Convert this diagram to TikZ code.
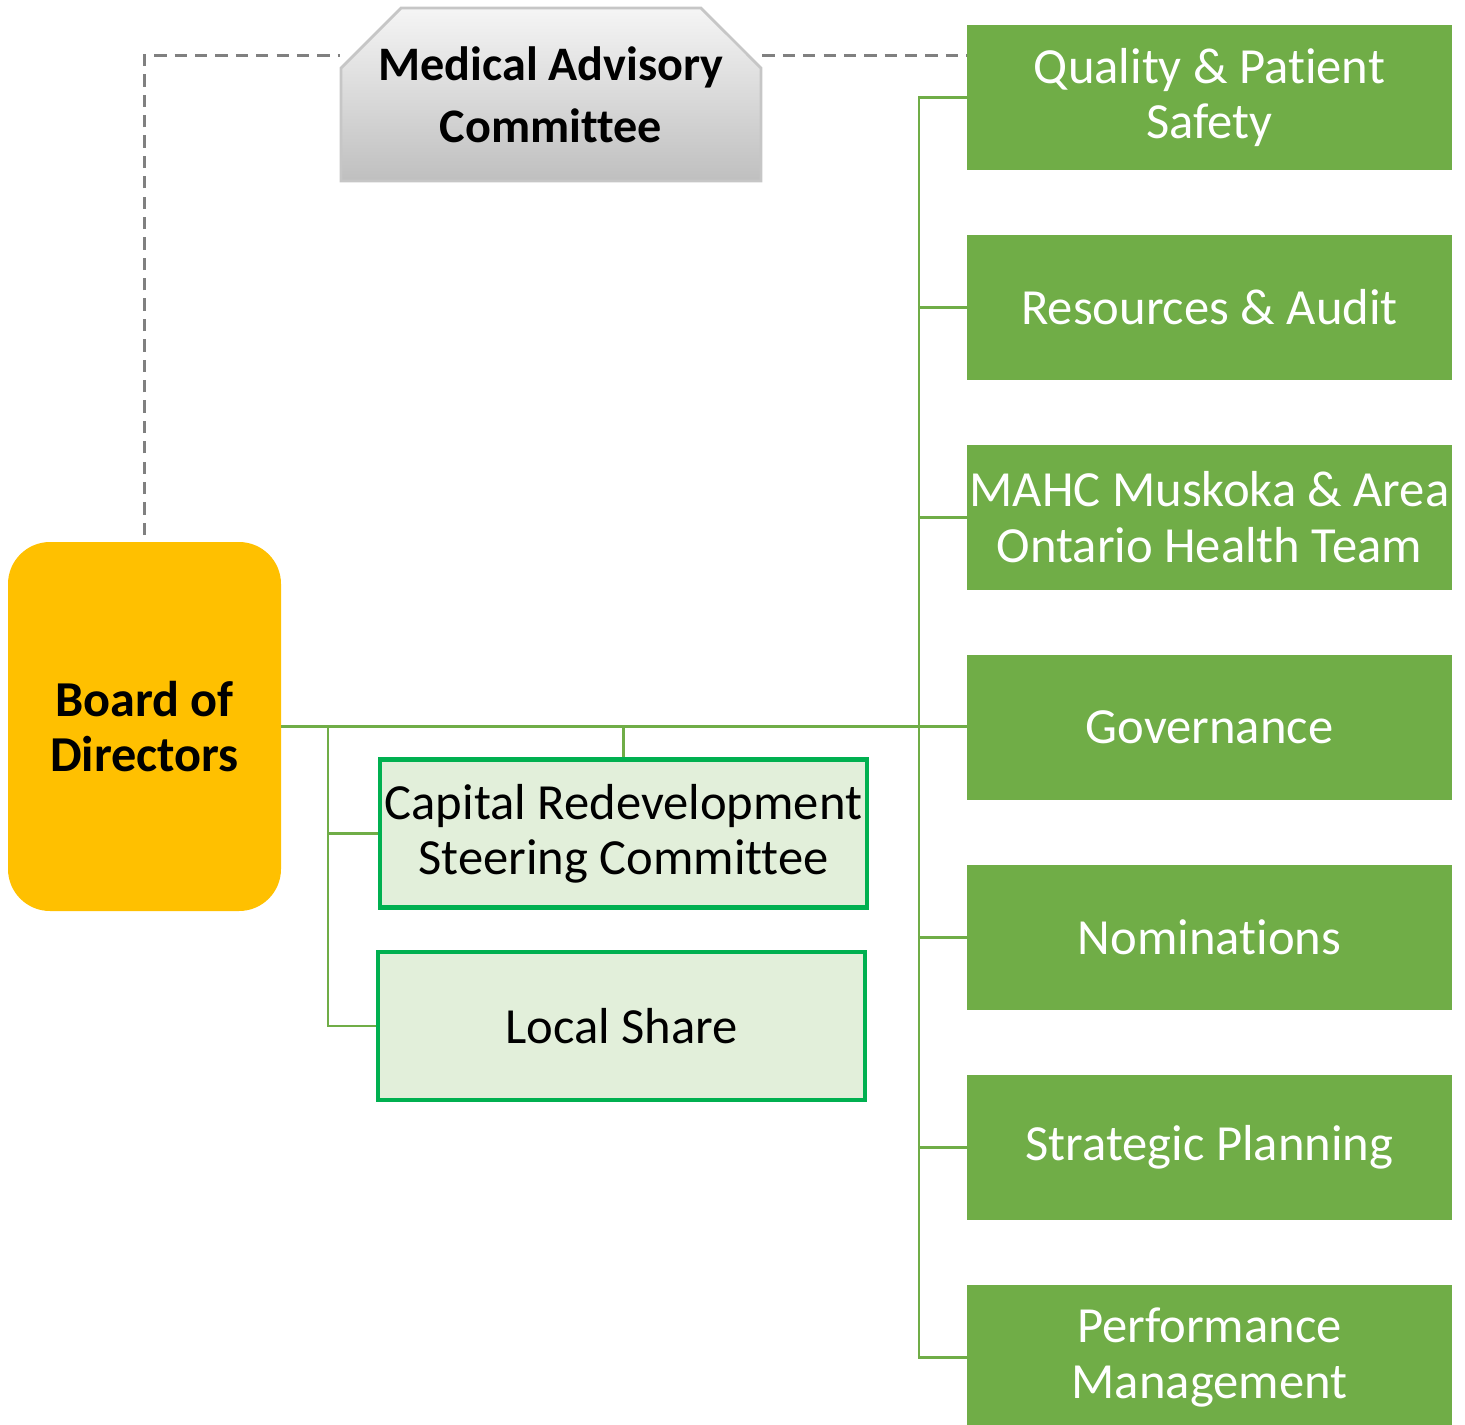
\documentclass[tikz,border=0pt]{standalone}
\usepackage{fontspec}
\setmainfont{Carlito}[Ligatures=NoCommon]
\usetikzlibrary{positioning, shapes.misc}
\definecolor{boardgold}{HTML}{FFC000}
\definecolor{leafgreen}{HTML}{70AD47}
\definecolor{palegreen}{HTML}{E2EFDA}
\definecolor{framegreen}{HTML}{00B050}

\begin{document}
\begin{tikzpicture}[
node distance=0.65cm,
committee/.style={fill=leafgreen,
text=white,
minimum width=4.85cm,
minimum height=1.45cm,
inner sep=0pt,
outer sep=0pt,
align=center,
font=\fontsize{14.4}{15.9}\selectfont},
subbox/.style={draw=framegreen,
line width=1.4pt,
fill=palegreen,
minimum width=4.87cm,
minimum height=1.48cm,
inner sep=0pt,
align=center,
font=\fontsize{14.4}{15.6}\selectfont},
link/.style={leafgreen, line width=0.75pt},
dashline/.style={gray, line width=1.05pt, dash pattern=on 3.5pt off 2.3pt}
]
\useasboundingbox (0,0) rectangle (14.65,-14.25);

\node[draw=none, fill=boardgold, rounded corners=0.42cm, minimum width=2.73cm, minimum height=3.69cm,
outer sep=0pt, align=center, font=\bfseries\fontsize{14.3}{15.6}\selectfont] (board) at (1.445,-7.265) {Board of\\Directors};

\node[chamfered rectangle, chamfered rectangle corners={north west, north east},
chamfered rectangle xsep=0.24cm, chamfered rectangle ysep=0.36cm,
draw=gray!45, line width=0.8pt, top color=gray!8, bottom color=gray!50,
minimum width=4.2cm, minimum height=1.73cm, inner sep=0pt, align=center,
font=\bfseries\fontsize{13.7}{17.6}\selectfont] (mac) at (5.51,-0.945) {Medical Advisory\\Committee};

\node[committee] (qps) at (12.095,-0.975) {Quality \& Patient\\Safety};
\node[committee, below=of qps] (ra) {Resources \& Audit};
\node[committee, below=of ra] (mahc) {MAHC Muskoka \& Area\\Ontario Health Team};
\node[committee, below=of mahc] (gov) {Governance};
\node[committee, below=of gov] (nom) {Nominations};
\node[committee, below=of nom] (sp) {Strategic Planning};
\node[committee, below=of sp] (pm) {Performance\\Management};

\node[subbox] (crsc) at (6.235,-8.335) {Capital Redevelopment\\Steering Committee};
\node[subbox] (ls) at (6.215,-10.26) {Local Share};

% dashed advisory line
\draw[dashline] ([yshift=0.07cm]board.north) |- ([yshift=0.39cm]mac.west);
\draw[dashline] ([yshift=0.39cm]mac.east) -- ([yshift=0.39cm]mac.east -| qps.west);

% committee tree
\draw[link] (board.east) -- (board.east -| gov.west);
\draw[link] (qps.west) -- ++(-0.48,0) |- (pm.west);
\foreach \c in {ra, mahc, nom, sp}
  \draw[link] (\c.west) -- ++(-0.48,0);

% sub committees
\coordinate (split) at (3.28,-7.265);
\draw[link] (split) |- (ls.west);
\draw[link] (split |- crsc.west) -- (crsc.west);
\draw[link] (crsc.north) -- (crsc.north |- board.east);

\end{tikzpicture}
\end{document}
